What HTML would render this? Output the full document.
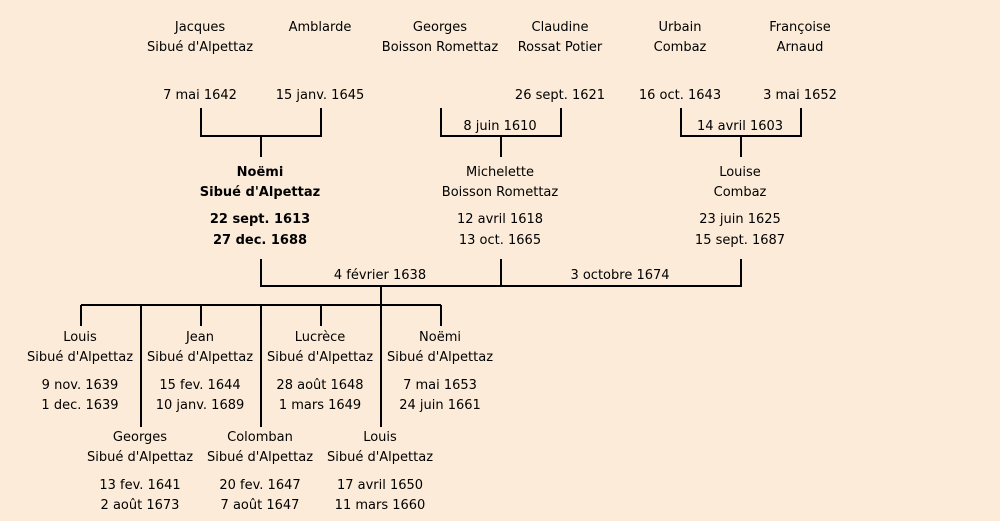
<!DOCTYPE html>
<html><head><meta charset="utf-8"><style>
body{margin:0;width:1000px;height:521px;background:#fbebd8;position:relative;overflow:hidden;font-family:"Comic Sans MS","DejaVu Sans","Liberation Sans",sans-serif;font-size:13px;color:#000}
.t{position:absolute;transform:translateX(-50%);white-space:nowrap;line-height:14px;margin-top:1px}
.b{font-weight:bold}
svg{position:absolute;left:0;top:0}
</style></head><body>
<svg width="1000" height="521"><g stroke="#000" stroke-width="2" fill="none">
<path d="M201 108V136H321V108M261 136V157"/>
<path d="M441 108V136H561V108M501 136V157"/>
<path d="M681 108V136H801V108M741 136V157"/>
<path d="M261 259V286H741V259M501 259V286"/>
<path d="M381 286V427M81 305H441M81 305V326M201 305V326M321 305V326M441 305V326M141 305V427M261 305V427"/>
</g></svg>
<div id="c"></div>
<script>
var d=[
[200,20,"Jacques"],[200,40,"Sibué d'Alpettaz"],[320,20,"Amblarde"],
[440,20,"Georges"],[440,40,"Boisson Romettaz"],[560,20,"Claudine"],[560,40,"Rossat Potier"],
[680,20,"Urbain"],[680,40,"Combaz"],[800,20,"Françoise"],[800,40,"Arnaud"],
[200,88,"7 mai 1642"],[320,88,"15 janv. 1645"],[560,88,"26 sept. 1621"],[680,88,"16 oct. 1643"],[800,88,"3 mai 1652"],
[500,119,"8 juin 1610"],[740,119,"14 avril 1603"],
[260,165,"Noëmi",1],[260,185,"Sibué d'Alpettaz",1],[260,212,"22 sept. 1613",1],[260,233,"27 dec. 1688",1],
[500,165,"Michelette"],[500,185,"Boisson Romettaz"],[500,212,"12 avril 1618"],[500,233,"13 oct. 1665"],
[740,165,"Louise"],[740,185,"Combaz"],[740,212,"23 juin 1625"],[740,233,"15 sept. 1687"],
[380,268,"4 février 1638"],[620,268,"3 octobre 1674"],
[80,330,"Louis"],[80,350,"Sibué d'Alpettaz"],[80,378,"9 nov. 1639"],[80,398,"1 dec. 1639"],
[200,330,"Jean"],[200,350,"Sibué d'Alpettaz"],[200,378,"15 fev. 1644"],[200,398,"10 janv. 1689"],
[320,330,"Lucrèce"],[320,350,"Sibué d'Alpettaz"],[320,378,"28 août 1648"],[320,398,"1 mars 1649"],
[440,330,"Noëmi"],[440,350,"Sibué d'Alpettaz"],[440,378,"7 mai 1653"],[440,398,"24 juin 1661"],
[140,430,"Georges"],[140,450,"Sibué d'Alpettaz"],[140,478,"13 fev. 1641"],[140,498,"2 août 1673"],
[260,430,"Colomban"],[260,450,"Sibué d'Alpettaz"],[260,478,"20 fev. 1647"],[260,498,"7 août 1647"],
[380,430,"Louis"],[380,450,"Sibué d'Alpettaz"],[380,478,"17 avril 1650"],[380,498,"11 mars 1660"]
];
var h="";d.forEach(function(a){h+='<div class="t'+(a[3]?' b':'')+'" style="left:'+a[0]+'px;top:'+a[1]+'px">'+a[2]+'</div>'});
document.getElementById("c").innerHTML=h;
</script>
</body></html>
